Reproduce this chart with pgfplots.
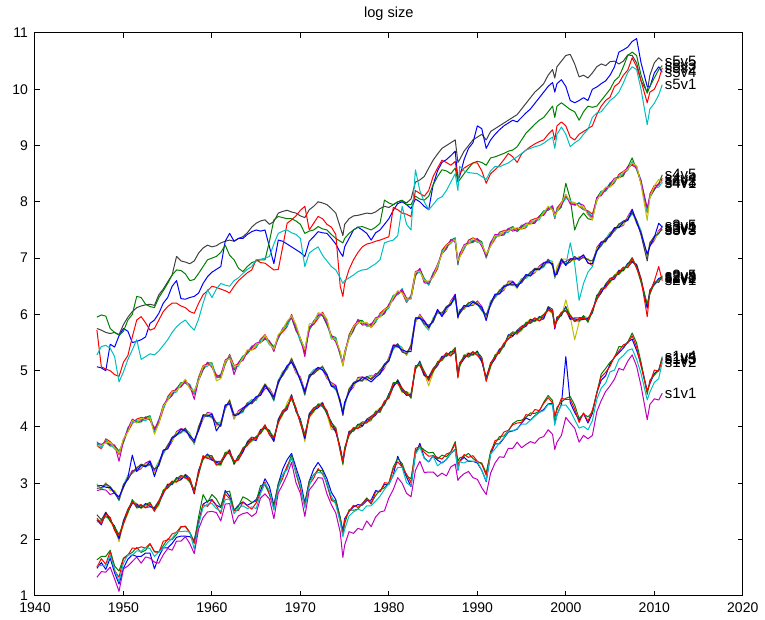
\documentclass[border=0pt]{standalone}
\usepackage{fontspec}
\setmainfont{Liberation Sans}
\usepackage{pgfplots}
\usepackage{pgfplotstable}
\pgfplotsset{compat=1.18}
\definecolor{mblue}{rgb}{0,0,1}
\definecolor{mgreen}{rgb}{0,0.5,0}
\definecolor{mred}{rgb}{1,0,0}
\definecolor{mcyan}{rgb}{0,0.75,0.75}
\definecolor{mmag}{rgb}{0.75,0,0.75}
\definecolor{myel}{rgb}{0.75,0.75,0}
\definecolor{mgray}{rgb}{0.25,0.25,0.25}

% group s1: v1 magenta, v2 cyan, v3 red, v4 green, v5 blue
\pgfplotstableread{
t v1 v2 v3 v4 v5
1947.0 1.33 1.53 1.51 1.64 1.49
1947.5 1.43 1.54 1.66 1.70 1.59
1948.0 1.42 1.53 1.56 1.70 1.47
1948.5 1.51 1.72 1.79 1.81 1.67
1949.0 1.30 1.47 1.45 1.53 1.41
1949.5 1.08 1.25 1.33 1.44 1.21
1950.0 1.48 1.58 1.66 1.67 1.49
1950.5 1.53 1.73 1.72 1.73 1.65
1951.0 1.61 1.72 1.85 1.77 1.73
1951.5 1.69 1.80 1.84 1.86 1.70
1952.0 1.58 1.79 1.87 1.77 1.70
1952.5 1.69 1.86 1.85 1.81 1.76
1953.0 1.67 1.84 1.93 1.92 1.76
1953.5 1.60 1.70 1.78 1.79 1.48
1954.0 1.58 1.78 1.77 1.78 1.70
1954.5 1.73 1.84 1.97 1.89 1.85
1955.0 1.84 1.95 1.99 2.01 1.85
1955.5 1.81 2.02 2.10 2.00 1.93
1956.0 1.97 2.14 2.13 2.09 2.04
1956.5 1.97 2.14 2.23 2.22 2.06
1957.0 2.05 2.15 2.23 2.24 2.06
1957.5 1.93 2.13 2.12 2.13 2.05
1958.0 1.75 1.83 1.93 1.96 1.99
1958.5 2.19 2.27 2.28 2.41 2.32
1959.0 2.39 2.57 2.62 2.80 2.63
1959.5 2.49 2.63 2.59 2.66 2.68
1960.0 2.50 2.64 2.70 2.80 2.71
1960.5 2.48 2.55 2.60 2.72 2.61
1961.0 2.33 2.50 2.46 2.58 2.57
1961.5 2.63 2.71 2.81 2.84 2.87
1962.0 2.64 2.72 2.73 2.86 2.77
1962.5 2.28 2.46 2.51 2.52 2.52
1963.0 2.42 2.56 2.52 2.59 2.61
1963.5 2.46 2.60 2.66 2.76 2.67
1964.0 2.48 2.55 2.60 2.72 2.61
1964.5 2.41 2.58 2.54 2.66 2.65
1965.0 2.47 2.55 2.65 2.68 2.71
1965.5 2.74 2.82 2.83 2.96 2.87
1966.0 2.81 3.00 3.02 2.97 3.08
1966.5 2.72 2.87 2.80 2.81 2.94
1967.0 2.37 2.52 2.55 2.59 2.61
1967.5 2.83 2.91 2.93 2.99 2.99
1968.0 2.98 3.16 3.09 3.15 3.25
1968.5 3.15 3.24 3.31 3.28 3.42
1969.0 3.37 3.46 3.44 3.51 3.53
1969.5 3.01 3.20 3.22 3.17 3.28
1970.0 2.82 2.97 2.90 2.91 3.04
1970.5 2.41 2.56 2.59 2.63 2.65
1971.0 2.88 2.96 2.98 3.04 3.04
1971.5 2.98 3.16 3.09 3.15 3.25
1972.0 3.10 3.19 3.26 3.23 3.37
1972.5 3.09 3.18 3.16 3.23 3.25
1973.0 2.81 3.00 3.02 2.97 3.08
1973.5 2.62 2.77 2.70 2.71 2.84
1974.0 2.47 2.62 2.65 2.69 2.71
1974.5 2.13 2.31 2.33 2.39 2.39
1974.8 1.68 2.05 2.08 2.10 2.15
1975.0 1.90 2.18 2.35 2.28 2.37
1975.5 2.14 2.42 2.50 2.53 2.50
1976.0 2.11 2.49 2.61 2.52 2.58
1976.5 2.20 2.54 2.57 2.54 2.62
1977.0 2.17 2.51 2.64 2.64 2.61
1977.5 2.33 2.60 2.72 2.74 2.69
1978.0 2.23 2.60 2.63 2.65 2.70
1978.5 2.40 2.68 2.85 2.78 2.87
1979.0 2.49 2.77 2.85 2.88 2.85
1979.5 2.51 2.89 3.01 2.92 2.98
1980.0 2.74 2.99 3.00 3.01 2.98
1980.5 2.89 3.14 3.25 3.29 3.15
1981.0 3.10 3.28 3.38 3.44 3.48
1981.5 3.00 3.28 3.29 3.35 3.29
1982.0 2.82 3.01 3.16 3.13 3.11
1982.5 2.76 2.95 3.01 3.08 2.94
1983.0 3.23 3.52 3.62 3.57 3.52
1983.5 3.39 3.64 3.65 3.66 3.71
1984.0 3.19 3.44 3.55 3.59 3.45
1984.5 3.20 3.38 3.48 3.54 3.38
1985.0 3.20 3.48 3.49 3.55 3.49
1985.5 3.12 3.31 3.46 3.43 3.41
1986.0 3.18 3.37 3.43 3.50 3.36
1986.5 3.13 3.42 3.52 3.47 3.42
1987.0 3.29 3.54 3.55 3.56 3.53
1987.5 3.34 3.59 3.70 3.74 3.60
1987.8 3.05 3.23 3.33 3.39 3.23
1988.0 3.10 3.38 3.39 3.45 3.39
1988.5 3.17 3.36 3.51 3.48 3.46
1989.0 3.21 3.40 3.46 3.53 3.39
1989.5 3.10 3.39 3.49 3.44 3.39
1990.0 3.07 3.38 3.39 3.38 3.36
1990.5 2.92 3.23 3.34 3.36 3.23
1991.0 2.80 3.04 3.14 3.18 3.03
1991.5 3.18 3.52 3.53 3.57 3.52
1992.0 3.36 3.61 3.76 3.71 3.70
1992.5 3.47 3.72 3.78 3.83 3.70
1993.0 3.46 3.81 3.91 3.84 3.80
1993.5 3.62 3.93 3.94 3.93 3.91
1994.0 3.62 3.93 4.04 4.06 3.93
1994.5 3.73 3.97 4.07 4.11 3.96
1995.0 3.63 4.05 4.08 4.12 4.07
1995.5 3.69 4.05 4.22 4.17 4.16
1996.0 3.74 4.12 4.20 4.25 4.12
1996.5 3.71 4.19 4.31 4.24 4.20
1997.0 3.80 4.26 4.29 4.28 4.26
1997.5 3.83 4.29 4.42 4.44 4.31
1998.0 3.95 4.40 4.52 4.56 4.41
1998.5 3.87 4.40 4.43 4.47 4.42
1998.75 3.60 4.03 4.20 4.15 4.07
1999.0 3.73 4.22 4.30 4.35 4.22
1999.5 3.85 4.39 4.51 4.44 4.40
2000.0 4.17 4.39 4.49 4.51 5.25
2000.5 4.07 4.29 4.49 4.54 4.43
2001.0 3.98 4.13 4.32 4.39 4.26
2001.5 3.73 3.98 4.08 4.15 4.12
2002.0 3.85 4.01 4.25 4.23 4.24
2002.5 3.79 3.95 4.10 4.18 4.07
2003.0 3.85 4.11 4.30 4.26 4.24
2003.5 4.27 4.49 4.59 4.61 4.61
2004.0 4.47 4.69 4.89 4.94 4.83
2004.5 4.63 4.78 4.97 5.04 4.91
2005.0 4.73 4.98 5.08 5.15 5.12
2005.5 4.85 5.01 5.25 5.23 5.24
2006.0 5.04 5.20 5.35 5.43 5.32
2006.5 5.01 5.27 5.46 5.42 5.40
2007.0 5.17 5.36 5.49 5.51 5.51
2007.5 5.28 5.39 5.62 5.67 5.56
2008.0 5.08 5.20 5.42 5.49 5.36
2008.5 4.73 4.95 5.08 5.15 5.12
2009.2 4.13 4.48 4.63 4.58 4.64
2009.5 4.40 4.62 4.78 4.83 4.77
2010.0 4.50 4.79 5.01 4.92 4.95
2010.5 4.48 4.86 4.99 5.01 5.01
2010.9 4.60 5.15 5.20 5.25 5.22
}\sone

% group s2: v1 red, v2 green, v3 blue, v4 gray, v5 yellow
\pgfplotstableread{
t v1 v2 v3 v4 v5
1947.0 2.38 2.33 2.35 2.44 2.31
1947.5 2.28 2.33 2.26 2.35 2.32
1948.0 2.45 2.41 2.48 2.48 2.49
1948.5 2.39 2.35 2.33 2.38 2.32
1949.0 2.16 2.22 2.24 2.17 2.20
1949.5 2.07 2.09 2.02 2.01 1.96
1950.0 2.27 2.29 2.32 2.34 2.28
1950.5 2.53 2.48 2.50 2.54 2.46
1951.0 2.66 2.71 2.64 2.68 2.70
1951.5 2.60 2.56 2.63 2.58 2.64
1952.0 2.62 2.58 2.56 2.61 2.55
1952.5 2.56 2.62 2.64 2.57 2.60
1953.0 2.64 2.66 2.59 2.58 2.63
1953.5 2.50 2.52 2.55 2.57 2.51
1954.0 2.68 2.63 2.65 2.69 2.61
1954.5 2.83 2.88 2.81 2.85 2.87
1955.0 2.95 2.91 2.98 2.93 2.99
1955.5 3.04 3.00 2.98 3.03 2.97
1956.0 3.02 3.08 3.10 3.03 3.06
1956.5 3.12 3.14 3.07 3.06 3.11
1957.0 3.09 3.11 3.14 3.16 3.10
1957.5 3.08 3.03 3.05 3.09 3.01
1958.0 2.83 2.88 2.81 2.85 2.87
1958.5 3.20 3.16 3.23 3.18 3.24
1959.0 3.49 3.45 3.43 3.48 3.42
1959.5 3.44 3.50 3.52 3.45 3.48
1960.0 3.47 3.49 3.42 3.41 3.46
1960.5 3.32 3.34 3.37 3.39 3.33
1961.0 3.38 3.33 3.35 3.39 3.31
1961.5 3.50 3.55 3.48 3.52 3.54
1962.0 3.56 3.52 3.59 3.54 3.60
1962.5 3.40 3.36 3.34 3.39 3.33
1963.0 3.41 3.47 3.49 3.42 3.45
1963.5 3.61 3.63 3.56 3.55 3.60
1964.0 3.67 3.69 3.72 3.74 3.68
1964.5 3.81 3.76 3.78 3.82 3.74
1965.0 3.78 3.83 3.76 3.80 3.82
1965.5 3.92 3.88 3.95 3.90 3.96
1966.0 4.04 4.00 3.98 4.03 3.97
1966.5 3.86 3.92 3.94 3.87 3.90
1967.0 3.80 3.82 3.75 3.74 3.79
1967.5 4.07 4.09 4.12 4.14 4.08
1968.0 4.28 4.23 4.25 4.29 4.21
1968.5 4.33 4.38 4.31 4.35 4.43
1969.0 4.54 4.50 4.57 4.52 4.58
1969.5 4.34 4.30 4.28 4.33 4.27
1970.0 4.06 4.12 4.14 4.07 4.10
1970.5 3.85 3.87 3.80 3.79 3.74
1971.0 4.17 4.19 4.22 4.24 4.18
1971.5 4.33 4.28 4.30 4.34 4.26
1972.0 4.36 4.41 4.34 4.38 4.40
1972.5 4.40 4.36 4.43 4.38 4.44
1973.0 4.29 4.25 4.23 4.28 4.22
1973.5 4.01 4.07 4.09 4.02 3.95
1974.0 3.97 3.99 3.92 3.91 3.96
1974.5 3.57 3.59 3.62 3.64 3.58
1974.8 3.39 3.34 3.36 3.40 3.32
1975.0 3.58 3.63 3.56 3.60 3.62
1975.5 3.89 3.85 3.92 3.87 3.93
1976.0 3.99 3.95 3.93 3.98 3.92
1976.5 3.97 4.03 4.05 3.98 4.01
1977.0 4.07 4.09 4.02 4.01 4.06
1977.5 4.07 4.09 4.12 4.14 4.08
1978.0 4.18 4.13 4.15 4.19 4.11
1978.5 4.23 4.28 4.21 4.25 4.27
1979.0 4.30 4.26 4.33 4.28 4.34
1979.5 4.46 4.42 4.40 4.45 4.39
1980.0 4.51 4.57 4.59 4.52 4.55
1980.5 4.77 4.79 4.72 4.71 4.76
1981.0 4.77 4.79 4.82 4.84 4.78
1981.5 4.68 4.63 4.65 4.69 4.61
1982.0 4.58 4.63 4.56 4.60 4.62
1982.5 4.55 4.51 4.58 4.53 4.59
1983.0 5.09 5.05 5.03 5.08 5.02
1983.5 5.09 5.15 5.17 5.10 5.13
1984.0 4.97 4.99 4.92 4.91 4.96
1984.5 4.82 4.84 4.87 4.89 4.73
1985.0 5.03 4.98 5.00 5.04 4.96
1985.5 5.11 5.16 5.09 5.13 5.15
1986.0 5.22 5.18 5.25 5.20 5.26
1986.5 5.32 5.28 5.26 5.31 5.25
1987.0 5.26 5.32 5.34 5.27 5.30
1987.5 5.39 5.41 5.34 5.33 5.38
1987.8 4.87 4.89 4.92 4.94 4.88
1988.0 5.13 5.08 5.10 5.14 5.06
1988.5 5.23 5.28 5.21 5.25 5.27
1989.0 5.28 5.24 5.31 5.26 5.32
1989.5 5.34 5.30 5.28 5.33 5.27
1990.0 5.27 5.33 5.35 5.28 5.31
1990.5 5.22 5.24 5.17 5.16 5.21
1991.0 4.81 4.83 4.86 4.88 4.82
1991.5 5.13 5.08 5.10 5.14 5.06
1992.0 5.23 5.28 5.21 5.25 5.27
1992.5 5.35 5.31 5.38 5.33 5.39
1993.0 5.49 5.45 5.43 5.48 5.42
1993.5 5.56 5.62 5.64 5.57 5.60
1994.0 5.67 5.69 5.62 5.61 5.66
1994.5 5.65 5.67 5.70 5.72 5.66
1995.0 5.78 5.73 5.75 5.79 5.71
1995.5 5.81 5.86 5.79 5.83 5.85
1996.0 5.88 5.84 5.91 5.86 5.92
1996.5 5.94 5.90 5.88 5.93 5.87
1997.0 5.88 5.94 5.96 5.89 5.92
1997.5 5.98 6.00 5.93 5.92 5.97
1998.0 6.07 6.09 6.12 6.14 6.08
1998.5 6.08 6.03 6.05 6.09 6.01
1998.75 5.76 5.81 5.74 5.78 5.80
1999.0 5.92 5.88 5.95 5.90 5.96
1999.5 6.04 6.00 5.98 6.03 5.97
2000.0 6.06 6.12 6.14 6.07 6.26
2000.5 5.97 5.99 5.92 5.91 5.96
2001.0 5.87 5.89 5.92 5.94 5.55
2001.5 5.93 5.88 5.90 5.94 5.86
2002.0 5.93 5.98 5.91 5.95 5.97
2002.5 5.90 5.86 5.93 5.88 5.94
2003.0 6.09 6.05 6.03 6.08 6.02
2003.5 6.26 6.32 6.34 6.27 6.30
2004.0 6.44 6.46 6.39 6.38 6.43
2004.5 6.47 6.49 6.52 6.54 6.48
2005.0 6.63 6.58 6.60 6.64 6.56
2005.5 6.65 6.70 6.63 6.67 6.69
2006.0 6.75 6.71 6.78 6.73 6.79
2006.5 6.84 6.80 6.78 6.83 6.77
2007.0 6.83 6.89 6.91 6.84 6.87
2007.5 6.99 7.01 6.94 6.93 6.98
2008.0 6.82 6.84 6.87 6.89 6.83
2008.5 6.63 6.58 6.60 6.64 6.56
2009.2 5.96 6.18 6.11 6.15 6.17
2009.5 6.40 6.36 6.43 6.38 6.44
2010.0 6.59 6.55 6.53 6.58 6.52
2010.5 6.85 6.62 6.64 6.57 6.60
2010.9 6.60 6.64 6.66 6.68 6.70
}\stwo

% group s3: v1 blue, v2 gray, v3 yellow, v4 magenta, v5 cyan
\pgfplotstableread{
t v1 v2 v3 v4 v5
1947.0 2.95 2.91 2.98 2.87 2.99
1947.5 2.96 2.92 2.90 2.89 2.89
1948.0 2.93 2.99 3.01 2.88 2.97
1948.5 2.92 2.94 2.87 2.80 2.91
1949.0 2.82 2.84 2.87 2.83 2.83
1949.5 2.76 2.71 2.73 2.71 2.69
1950.0 2.93 2.98 2.91 2.95 2.97
1950.5 3.10 3.06 3.13 3.08 3.14
1951.0 3.50 3.20 3.18 3.23 3.17
1951.5 3.21 3.27 3.29 3.22 3.25
1952.0 3.32 3.34 3.27 3.26 3.31
1952.5 3.29 3.31 3.34 3.36 3.30
1953.0 3.39 3.34 3.36 3.40 3.32
1953.5 3.12 3.25 3.18 3.22 3.24
1954.0 3.35 3.31 3.38 3.33 3.39
1954.5 3.59 3.55 3.53 3.58 3.52
1955.0 3.61 3.67 3.69 3.62 3.65
1955.5 3.80 3.82 3.75 3.74 3.79
1956.0 3.85 3.87 3.90 3.92 3.86
1956.5 3.96 3.91 3.93 3.97 3.89
1957.0 3.93 3.98 3.91 3.95 3.97
1957.5 3.85 3.81 3.88 3.83 3.89
1958.0 3.76 3.72 3.70 3.75 3.69
1958.5 3.94 4.00 4.02 3.95 3.98
1959.0 4.20 4.22 4.15 4.14 4.19
1959.5 4.19 4.21 4.24 4.26 4.20
1960.0 4.23 4.18 4.20 4.24 4.16
1960.5 3.93 4.08 4.01 4.05 4.07
1961.0 4.05 4.01 4.08 4.03 4.09
1961.5 4.39 4.35 4.33 4.38 4.32
1962.0 4.41 4.47 4.49 4.42 4.45
1962.5 4.20 4.22 4.15 4.14 4.19
1963.0 4.22 4.24 4.27 4.29 4.23
1963.5 4.33 4.28 4.30 4.34 4.26
1964.0 4.38 4.43 4.36 4.40 4.42
1964.5 4.45 4.41 4.48 4.43 4.49
1965.0 4.54 4.50 4.48 4.53 4.47
1965.5 4.56 4.62 4.64 4.57 4.60
1966.0 4.74 4.76 4.77 4.68 4.73
1966.5 4.62 4.64 4.67 4.69 4.63
1967.0 4.53 4.48 4.50 4.54 4.46
1967.5 4.78 4.83 4.76 4.80 4.82
1968.0 4.95 4.91 4.98 4.93 4.99
1968.5 5.09 5.05 5.03 5.08 5.02
1969.0 5.15 5.21 5.23 5.16 5.19
1969.5 5.02 5.04 4.97 4.96 5.01
1970.0 4.82 4.84 4.87 4.89 4.83
1970.5 4.63 4.58 4.60 4.64 4.56
1971.0 4.88 4.93 4.86 4.90 4.92
1971.5 4.98 4.94 5.01 4.96 5.02
1972.0 5.06 5.02 5.00 5.05 5.05
1972.5 5.01 5.07 5.09 5.02 5.05
1973.0 4.92 4.94 4.87 4.86 4.91
1973.5 4.72 4.74 4.77 4.79 4.73
1974.0 4.73 4.68 4.70 4.74 4.66
1974.5 4.43 4.48 4.41 4.45 4.47
1974.8 4.24 4.20 4.27 4.22 4.28
1975.0 4.44 4.40 4.38 4.43 4.37
1975.5 4.61 4.67 4.69 4.62 4.65
1976.0 4.77 4.79 4.72 4.71 4.76
1976.5 4.81 4.83 4.86 4.88 4.82
1977.0 4.88 4.83 4.85 4.89 4.81
1977.5 4.85 4.90 4.83 4.87 4.89
1978.0 4.80 4.84 4.91 4.86 4.92
1978.5 4.88 4.92 4.90 4.95 4.89
1979.0 4.94 5.00 5.02 4.95 4.98
1979.5 5.10 5.12 5.05 5.04 5.09
1980.0 5.17 5.19 5.22 5.24 5.18
1980.5 5.45 5.40 5.42 5.46 5.38
1981.0 5.43 5.48 5.41 5.45 5.47
1981.5 5.37 5.33 5.40 5.35 5.41
1982.0 5.34 5.30 5.28 5.33 5.27
1982.5 5.34 5.45 5.47 5.40 5.43
1983.0 5.92 5.94 5.87 5.86 5.91
1983.5 5.93 5.95 5.98 6.00 5.94
1984.0 5.88 5.83 5.85 5.89 5.81
1984.5 5.76 5.81 5.74 5.78 5.72
1985.0 5.90 5.86 5.93 5.88 5.94
1985.5 6.09 6.05 6.03 6.08 6.02
1986.0 5.96 6.02 6.04 5.97 6.00
1986.5 6.12 6.14 6.07 6.06 6.11
1987.0 6.17 6.19 6.22 6.24 6.18
1987.5 6.35 6.30 6.32 6.36 6.28
1987.8 5.94 5.99 5.92 5.96 5.98
1988.0 6.05 6.01 6.08 6.03 6.09
1988.5 6.16 6.12 6.10 6.15 6.09
1989.0 6.14 6.20 6.22 6.15 6.18
1989.5 6.22 6.24 6.17 6.16 6.21
1990.0 6.17 6.19 6.22 6.24 6.18
1990.5 6.13 6.08 6.10 6.14 6.06
1991.0 5.89 5.99 5.92 5.96 5.98
1991.5 6.20 6.16 6.23 6.18 6.24
1992.0 6.36 6.32 6.30 6.35 6.29
1992.5 6.36 6.42 6.44 6.37 6.40
1993.0 6.49 6.51 6.44 6.43 6.48
1993.5 6.52 6.54 6.57 6.59 6.53
1994.0 6.58 6.53 6.55 6.59 6.51
1994.5 6.48 6.53 6.46 6.50 6.52
1995.0 6.60 6.56 6.63 6.58 6.64
1995.5 6.71 6.67 6.65 6.70 6.64
1996.0 6.68 6.74 6.76 6.69 6.72
1996.5 6.80 6.82 6.75 6.74 6.79
1997.0 6.79 6.81 6.84 6.86 6.80
1997.5 6.91 6.86 6.88 6.92 6.84
1998.0 6.93 6.98 6.91 6.95 6.97
1998.5 6.90 6.86 6.93 6.88 6.94
1998.75 6.71 6.67 6.65 6.70 6.64
1999.0 6.71 6.77 6.85 6.72 6.75
1999.5 6.97 6.99 6.98 6.91 6.96
2000.0 6.87 6.89 6.98 6.94 6.88
2000.5 6.98 6.93 6.95 6.99 7.27
2001.0 6.98 7.03 6.96 7.00 6.90
2001.5 7.00 6.96 7.03 6.98 6.25
2002.0 7.06 7.02 7.00 7.05 6.55
2002.5 6.91 6.97 6.99 6.92 6.75
2003.0 6.90 6.95 6.88 6.87 6.85
2003.5 7.12 7.14 7.17 7.19 7.13
2004.0 7.28 7.23 7.25 7.29 7.21
2004.5 7.30 7.35 7.28 7.32 7.34
2005.0 7.42 7.38 7.45 7.40 7.46
2005.5 7.54 7.50 7.48 7.53 7.47
2006.0 7.54 7.60 7.62 7.55 7.58
2006.5 7.64 7.66 7.59 7.58 7.63
2007.0 7.67 7.69 7.72 7.74 7.68
2007.5 7.86 7.81 7.83 7.87 7.79
2008.0 7.63 7.68 7.61 7.65 7.67
2008.5 7.45 7.41 7.48 7.43 7.49
2009.2 7.07 6.95 7.01 7.06 7.00
2009.5 7.21 7.27 7.29 7.22 7.25
2010.0 7.37 7.39 7.32 7.31 7.36
2010.5 7.62 7.44 7.47 7.49 7.43
2010.9 7.55 7.52 7.50 7.55 7.58
}\sthree

% group s4: v1 yellow, v2 magenta, v3 cyan, v4 red, v5 green
\pgfplotstableread{
t v1 v2 v3 v4 v5
1947.0 3.66 3.72 3.74 3.67 3.70
1947.5 3.67 3.69 3.62 3.61 3.66
1948.0 3.72 3.74 3.77 3.79 3.73
1948.5 3.73 3.68 3.70 3.74 3.66
1949.0 3.63 3.68 3.61 3.65 3.67
1949.5 3.53 3.39 3.56 3.51 3.57
1950.0 3.79 3.75 3.73 3.78 3.72
1950.5 3.91 3.97 3.99 3.92 3.95
1951.0 4.12 4.14 4.07 4.06 4.11
1951.5 4.07 4.09 4.12 4.14 4.08
1952.0 4.16 4.11 4.13 4.17 4.09
1952.5 4.13 4.18 4.11 4.15 4.17
1953.0 4.16 4.12 4.19 4.14 4.20
1953.5 3.87 3.95 3.93 3.98 3.92
1954.0 4.06 4.12 4.14 4.07 4.10
1954.5 4.37 4.39 4.32 4.31 4.36
1955.0 4.47 4.49 4.52 4.54 4.48
1955.5 4.63 4.58 4.60 4.64 4.56
1956.0 4.64 4.69 4.62 4.66 4.68
1956.5 4.75 4.71 4.78 4.73 4.79
1957.0 4.85 4.81 4.79 4.84 4.78
1957.5 4.68 4.74 4.76 4.69 4.72
1958.0 4.64 4.49 4.59 4.58 4.63
1958.5 4.82 4.84 4.87 4.89 4.83
1959.0 5.08 5.03 5.05 5.09 5.01
1959.5 5.10 5.15 5.08 5.12 5.14
1960.0 5.10 5.06 5.13 5.08 5.14
1960.5 4.82 4.90 4.88 4.93 4.87
1961.0 4.86 4.92 4.94 4.87 4.90
1961.5 5.17 5.19 5.12 5.11 5.16
1962.0 5.22 5.24 5.27 5.29 5.23
1962.5 5.08 4.93 5.05 5.09 5.01
1963.0 5.10 5.15 5.08 5.12 5.14
1963.5 5.22 5.18 5.25 5.20 5.26
1964.0 5.37 5.33 5.31 5.36 5.30
1964.5 5.36 5.42 5.44 5.37 5.40
1965.0 5.47 5.49 5.42 5.41 5.46
1965.5 5.49 5.51 5.54 5.56 5.50
1966.0 5.63 5.58 5.60 5.64 5.56
1966.5 5.48 5.53 5.46 5.50 5.52
1967.0 5.38 5.34 5.41 5.36 5.42
1967.5 5.64 5.60 5.58 5.63 5.57
1968.0 5.72 5.74 5.76 5.69 5.72
1968.5 5.88 5.86 5.79 5.78 5.83
1969.0 5.97 5.95 5.98 6.00 5.94
1969.5 5.82 5.73 5.75 5.79 5.71
1970.0 5.57 5.58 5.51 5.55 5.57
1970.5 5.38 5.25 5.37 5.32 5.38
1971.0 5.83 5.75 5.73 5.78 5.72
1971.5 5.85 5.87 5.89 5.82 5.85
1972.0 6.03 6.01 5.94 5.93 5.98
1972.5 6.01 5.99 6.02 6.04 5.98
1973.0 5.92 5.83 5.85 5.89 5.81
1973.5 5.58 5.63 5.56 5.60 5.62
1974.0 5.55 5.51 5.58 5.53 5.59
1974.5 5.34 5.30 5.28 5.33 5.27
1974.8 5.08 5.14 5.16 5.09 5.12
1975.0 5.32 5.34 5.27 5.26 5.31
1975.5 5.57 5.59 5.62 5.64 5.58
1976.0 5.78 5.73 5.75 5.79 5.71
1976.5 5.86 5.91 5.84 5.88 5.90
1977.0 5.85 5.81 5.88 5.83 5.89
1977.5 5.86 5.82 5.80 5.85 5.79
1978.0 5.76 5.82 5.84 5.77 5.80
1978.5 5.92 5.94 5.87 5.86 5.91
1979.0 5.95 5.97 6.00 6.02 5.96
1979.5 6.08 6.03 6.05 6.09 6.01
1980.0 6.13 6.18 6.11 6.15 6.17
1980.5 6.30 6.26 6.33 6.28 6.34
1981.0 6.42 6.38 6.36 6.41 6.35
1981.5 6.38 6.44 6.46 6.39 6.42
1982.0 6.27 6.29 6.22 6.21 6.26
1982.5 6.27 6.29 6.32 6.34 6.28
1983.0 6.75 6.70 6.72 6.76 6.68
1983.5 6.77 6.82 6.75 6.79 6.81
1984.0 6.60 6.56 6.63 6.58 6.64
1984.5 6.59 6.55 6.53 6.58 6.52
1985.0 6.66 6.72 6.74 6.67 6.70
1985.5 6.87 6.89 6.82 6.81 6.86
1986.0 7.07 7.09 7.12 7.14 7.08
1986.5 7.23 7.18 7.20 7.24 7.16
1987.0 7.28 7.33 7.26 7.30 7.32
1987.5 7.32 7.28 7.35 7.30 7.36
1987.8 6.95 6.91 6.89 6.94 6.88
1988.0 7.01 7.07 7.09 7.02 7.05
1988.5 7.22 7.24 7.17 7.16 7.21
1989.0 7.25 7.27 7.30 7.32 7.26
1989.5 7.35 7.30 7.32 7.36 7.28
1990.0 7.30 7.35 7.28 7.32 7.34
1990.5 7.25 7.21 7.28 7.23 7.29
1991.0 7.07 7.03 7.01 7.06 7.00
1991.5 7.21 7.27 7.29 7.22 7.25
1992.0 7.40 7.42 7.35 7.34 7.39
1992.5 7.39 7.41 7.44 7.46 7.40
1993.0 7.48 7.43 7.45 7.49 7.41
1993.5 7.48 7.53 7.46 7.50 7.52
1994.0 7.52 7.48 7.55 7.50 7.56
1994.5 7.54 7.50 7.48 7.53 7.47
1995.0 7.51 7.57 7.59 7.52 7.55
1995.5 7.60 7.62 7.55 7.54 7.59
1996.0 7.60 7.62 7.65 7.67 7.61
1996.5 7.69 7.64 7.66 7.70 7.62
1997.0 7.70 7.75 7.68 7.72 7.74
1997.5 7.80 7.76 7.83 7.78 7.84
1998.0 7.92 7.88 7.86 7.91 7.85
1998.5 7.86 7.92 7.94 7.87 7.90
1998.75 7.76 7.78 7.71 7.70 7.75
1999.0 7.82 7.84 7.87 7.89 7.83
1999.5 7.98 7.93 7.95 7.99 7.91
2000.0 8.13 8.13 8.06 8.10 8.33
2000.5 8.00 7.96 8.03 7.98 8.05
2001.0 7.99 7.95 7.93 7.98 7.50
2001.5 7.91 7.97 7.99 7.92 7.70
2002.0 7.92 7.94 7.87 7.86 7.80
2002.5 7.77 7.79 7.82 7.84 7.70
2003.0 7.68 7.72 7.74 7.78 7.68
2003.5 8.03 8.08 8.01 8.05 8.07
2004.0 8.15 8.11 8.18 8.13 8.19
2004.5 8.26 8.22 8.20 8.25 8.19
2005.0 8.26 8.32 8.34 8.27 8.30
2005.5 8.40 8.42 8.35 8.34 8.39
2006.0 8.42 8.44 8.47 8.49 8.43
2006.5 8.53 8.48 8.50 8.54 8.46
2007.0 8.58 8.63 8.56 8.60 8.62
2007.5 8.69 8.65 8.72 8.67 8.78
2008.0 8.64 8.60 8.58 8.63 8.57
2008.5 8.31 8.37 8.39 8.32 8.35
2009.2 7.67 7.89 7.82 7.81 7.86
2009.5 8.07 8.09 8.12 8.14 8.08
2010.0 8.28 8.23 8.25 8.29 8.21
2010.5 8.40 8.33 8.26 8.30 8.32
2010.9 8.32 8.38 8.35 8.42 8.48
}\sfour

% group s5: v1 cyan, v2 red, v3 green, v4 blue, v5 gray
\pgfplotstableread{
t v1 v2 v3 v4 v5
1947.0 5.28 5.72 5.95 5.07 5.75
1947.5 5.43 5.07 5.99 5.05 5.72
1948.0 5.45 5.03 5.97 5.00 5.68
1948.5 5.40 5.00 5.75 5.47 5.66
1949.0 5.25 4.93 5.68 5.42 5.68
1949.5 4.80 4.90 5.63 5.62 5.64
1950.0 4.98 5.15 5.70 5.75 5.82
1950.5 5.20 5.27 5.90 5.70 5.95
1951.0 5.37 5.60 6.00 5.50 6.05
1951.5 5.55 5.90 6.32 5.52 6.12
1952.0 5.20 5.96 6.30 5.55 6.15
1952.5 5.25 5.85 6.18 5.60 6.17
1953.0 5.30 5.72 6.14 5.84 6.18
1953.5 5.28 5.75 6.12 5.90 6.16
1954.0 5.35 5.90 6.30 6.02 6.35
1954.5 5.45 6.05 6.42 6.20 6.45
1955.0 5.55 6.14 6.55 6.30 6.58
1955.5 5.68 6.20 6.70 6.50 6.70
1956.0 5.78 6.20 6.79 6.60 7.03
1956.5 5.85 6.15 6.78 6.28 6.95
1957.0 5.90 6.12 6.72 6.27 6.93
1957.5 5.80 6.05 6.60 6.30 6.90
1958.0 5.72 6.02 6.62 6.32 6.95
1958.5 5.92 6.20 6.73 6.38 7.09
1959.0 6.20 6.35 6.85 6.55 7.18
1959.5 6.44 6.42 6.97 6.67 7.23
1960.0 6.30 6.50 7.00 6.75 7.20
1960.5 6.45 6.48 7.03 6.80 7.22
1961.0 6.55 6.45 7.10 6.85 7.27
1961.5 6.52 6.42 7.23 7.30 7.30
1962.0 6.50 6.38 7.05 7.44 7.32
1962.5 6.60 6.50 6.97 7.30 7.30
1963.0 6.65 6.60 6.82 7.35 7.35
1963.5 6.73 6.67 6.76 7.35 7.38
1964.0 6.80 6.74 6.85 7.42 7.45
1964.5 6.85 6.79 6.92 7.47 7.55
1965.0 6.97 6.97 6.95 7.50 7.62
1965.5 6.98 6.92 6.97 7.48 7.66
1966.0 7.00 6.91 6.97 7.50 7.68
1966.5 7.03 6.85 7.30 7.20 7.60
1967.0 7.25 6.79 7.68 6.90 7.65
1967.5 7.44 6.80 7.74 7.32 7.80
1968.0 7.48 7.20 7.72 7.30 7.83
1968.5 7.50 7.62 7.70 7.25 7.85
1969.0 7.45 7.68 7.70 7.20 7.82
1969.5 7.42 7.75 7.66 7.15 7.80
1970.0 7.35 7.85 7.60 7.10 7.75
1970.5 6.85 7.92 7.44 7.03 7.72
1971.0 7.09 7.50 7.48 7.30 7.86
1971.5 7.15 7.62 7.50 7.38 7.92
1972.0 7.20 7.74 7.56 7.47 8.00
1972.5 7.05 7.70 7.52 7.45 7.98
1973.0 6.95 7.60 7.50 7.44 7.95
1973.5 6.85 7.55 7.42 7.35 7.88
1974.0 6.79 7.42 7.35 7.25 7.80
1974.5 6.65 6.50 7.30 7.10 7.55
1974.8 6.55 6.32 7.27 7.03 7.40
1975.0 6.60 6.55 7.35 7.20 7.60
1975.5 6.65 6.80 7.44 7.35 7.70
1976.0 6.70 6.97 7.50 7.50 7.75
1976.5 6.76 7.10 7.55 7.55 7.76
1977.0 6.79 7.20 7.56 7.50 7.78
1977.5 6.80 7.25 7.53 7.44 7.80
1978.0 6.85 7.27 7.50 7.32 7.79
1978.5 6.90 7.30 7.55 7.45 7.82
1979.0 6.97 7.32 7.62 7.50 7.88
1979.5 7.27 7.35 8.03 7.60 7.92
1980.0 7.30 7.38 7.98 7.70 7.90
1980.5 7.32 7.90 7.95 7.85 7.95
1981.0 7.40 7.86 8.00 7.97 8.00
1981.5 7.92 7.80 8.03 8.00 8.02
1982.0 7.60 7.78 7.95 7.95 7.98
1982.5 7.50 7.74 7.95 7.88 8.05
1983.0 8.57 8.20 8.10 8.05 8.35
1983.5 8.20 8.15 8.05 8.00 8.39
1984.0 8.00 8.10 8.03 7.92 8.45
1984.5 7.86 8.20 8.10 7.86 8.60
1985.0 7.95 8.45 8.30 8.30 8.74
1985.5 8.05 8.60 8.45 8.55 8.85
1986.0 8.09 8.74 8.57 8.70 8.95
1986.5 8.20 8.70 8.55 8.75 9.00
1987.0 8.35 8.65 8.50 8.82 9.05
1987.5 8.50 8.72 8.60 8.90 9.10
1987.8 8.20 8.40 8.35 8.40 8.70
1988.0 8.63 8.50 8.39 8.45 8.75
1988.5 8.55 8.60 8.50 8.75 8.90
1989.0 8.52 8.65 8.60 8.95 9.00
1989.5 8.51 8.69 8.69 9.05 9.10
1990.0 8.50 8.69 8.72 9.35 9.15
1990.5 8.45 8.55 8.70 9.30 9.20
1991.0 8.40 8.33 8.65 8.95 9.10
1991.5 8.55 8.50 8.78 9.10 9.25
1992.0 8.63 8.57 8.80 9.20 9.30
1992.5 8.62 8.65 8.83 9.28 9.35
1993.0 8.66 8.75 8.86 9.35 9.40
1993.5 8.69 8.86 8.90 9.40 9.45
1994.0 8.75 8.80 8.92 9.45 9.50
1994.5 8.80 8.70 8.98 9.42 9.55
1995.0 8.86 8.85 9.10 9.50 9.65
1995.5 8.92 8.92 9.22 9.58 9.75
1996.0 8.95 8.98 9.30 9.65 9.85
1996.5 8.98 9.03 9.38 9.75 9.95
1997.0 9.00 9.07 9.45 9.85 10.02
1997.5 9.04 9.10 9.50 9.95 10.10
1998.0 9.10 9.20 9.60 10.05 10.25
1998.5 9.15 9.28 9.70 10.12 10.35
1998.75 8.95 9.10 9.50 9.95 10.20
1999.0 9.20 9.35 9.70 10.10 10.40
1999.5 9.33 9.42 9.76 10.17 10.50
2000.0 9.20 9.35 9.70 10.05 10.60
2000.5 8.98 9.15 9.64 9.80 10.62
2001.0 9.05 9.10 9.60 9.76 10.45
2001.5 9.10 9.20 9.45 9.80 10.22
2002.0 9.20 9.25 9.60 9.85 10.25
2002.5 9.29 9.30 9.70 9.80 10.20
2003.0 9.50 9.35 9.68 10.00 10.29
2003.5 9.58 9.55 9.70 10.04 10.40
2004.0 9.60 9.70 9.80 10.10 10.45
2004.5 9.70 9.80 9.90 10.15 10.42
2005.0 9.80 9.86 10.00 10.25 10.49
2005.5 9.86 10.05 10.15 10.40 10.50
2006.0 9.95 10.11 10.22 10.66 10.45
2006.5 10.11 10.25 10.40 10.70 10.50
2007.0 10.30 10.34 10.60 10.75 10.61
2007.5 10.40 10.56 10.66 10.85 10.60
2008.0 10.35 10.40 10.60 10.90 10.47
2008.5 10.00 10.15 10.25 10.47 10.15
2009.2 9.37 9.76 9.93 10.05 9.95
2009.5 9.65 9.95 10.05 10.04 10.25
2010.0 9.75 10.00 10.20 10.29 10.47
2010.5 9.90 10.17 10.35 10.40 10.56
2010.9 10.08 10.38 10.42 10.30 10.50
}\sfive

\tikzset{lab/.style={pos=1, anchor=west, inner sep=1pt, text=black, font=\fontsize{7.5}{9}\selectfont}}

\begin{document}
\begin{tikzpicture}
\begin{axis}[
  width=354pt, height=281.5pt, scale only axis,
  xmin=1940, xmax=2020, ymin=1, ymax=11,
  xtick={1940,1950,...,2020}, ytick={1,2,...,11},
  tick align=inside, tick pos=both,
  major tick length=2.6pt,
  axis line style={line width=0.5pt, black},
  every tick/.style={black, line width=0.5pt},
  tick label style={font=\fontsize{7}{8}\selectfont},
  /pgf/number format/assume math mode=true,
  x tick label style={/pgf/number format/.cd, 1000 sep={}},
  title={log size},
  title style={font=\fontsize{7.3}{9}\selectfont, yshift=-3.5pt},
  every axis plot/.append style={line width=0.5pt, line join=round, mark=none},
]
\addplot[mblue]  table[x=t,y=v5]{\sone} node[lab]{s1v5};
\addplot[mgreen] table[x=t,y=v4]{\sone} node[lab]{s1v4};
\addplot[mred]   table[x=t,y=v3]{\sone} node[lab]{s1v3};
\addplot[mcyan]  table[x=t,y=v2]{\sone} node[lab]{s1v2};
\addplot[mmag]   table[x=t,y=v1]{\sone} node[lab]{s1v1};
\addplot[myel]   table[x=t,y=v5]{\stwo} node[lab]{s2v5};
\addplot[mgray]  table[x=t,y=v4]{\stwo} node[lab]{s2v4};
\addplot[mblue]  table[x=t,y=v3]{\stwo} node[lab]{s2v3};
\addplot[mgreen] table[x=t,y=v2]{\stwo} node[lab]{s2v2};
\addplot[mred]   table[x=t,y=v1]{\stwo} node[lab]{s2v1};
\addplot[mcyan]  table[x=t,y=v5]{\sthree} node[lab]{s3v5};
\addplot[mmag]   table[x=t,y=v4]{\sthree} node[lab]{s3v4};
\addplot[myel]   table[x=t,y=v3]{\sthree} node[lab]{s3v3};
\addplot[mgray]  table[x=t,y=v2]{\sthree} node[lab]{s3v2};
\addplot[mblue]  table[x=t,y=v1]{\sthree} node[lab]{s3v1};
\addplot[mgreen] table[x=t,y=v5]{\sfour} node[lab]{s4v5};
\addplot[mred]   table[x=t,y=v4]{\sfour} node[lab]{s4v4};
\addplot[mcyan]  table[x=t,y=v3]{\sfour} node[lab]{s4v3};
\addplot[mmag]   table[x=t,y=v2]{\sfour} node[lab]{s4v2};
\addplot[myel]   table[x=t,y=v1]{\sfour} node[lab]{s4v1};
\addplot[mgray]  table[x=t,y=v5]{\sfive} node[lab]{s5v5};
\addplot[mblue]  table[x=t,y=v4]{\sfive} node[lab]{s5v4};
\addplot[mgreen] table[x=t,y=v3]{\sfive} node[lab]{s5v3};
\addplot[mred]   table[x=t,y=v2]{\sfive} node[lab]{s5v2};
\addplot[mcyan]  table[x=t,y=v1]{\sfive} node[lab]{s5v1};
\end{axis}
\path ([shift={(-17.5pt,-12pt)}]current axis.south west) rectangle ([shift={(11pt,16.5pt)}]current axis.north east);
\end{tikzpicture}
\end{document}
